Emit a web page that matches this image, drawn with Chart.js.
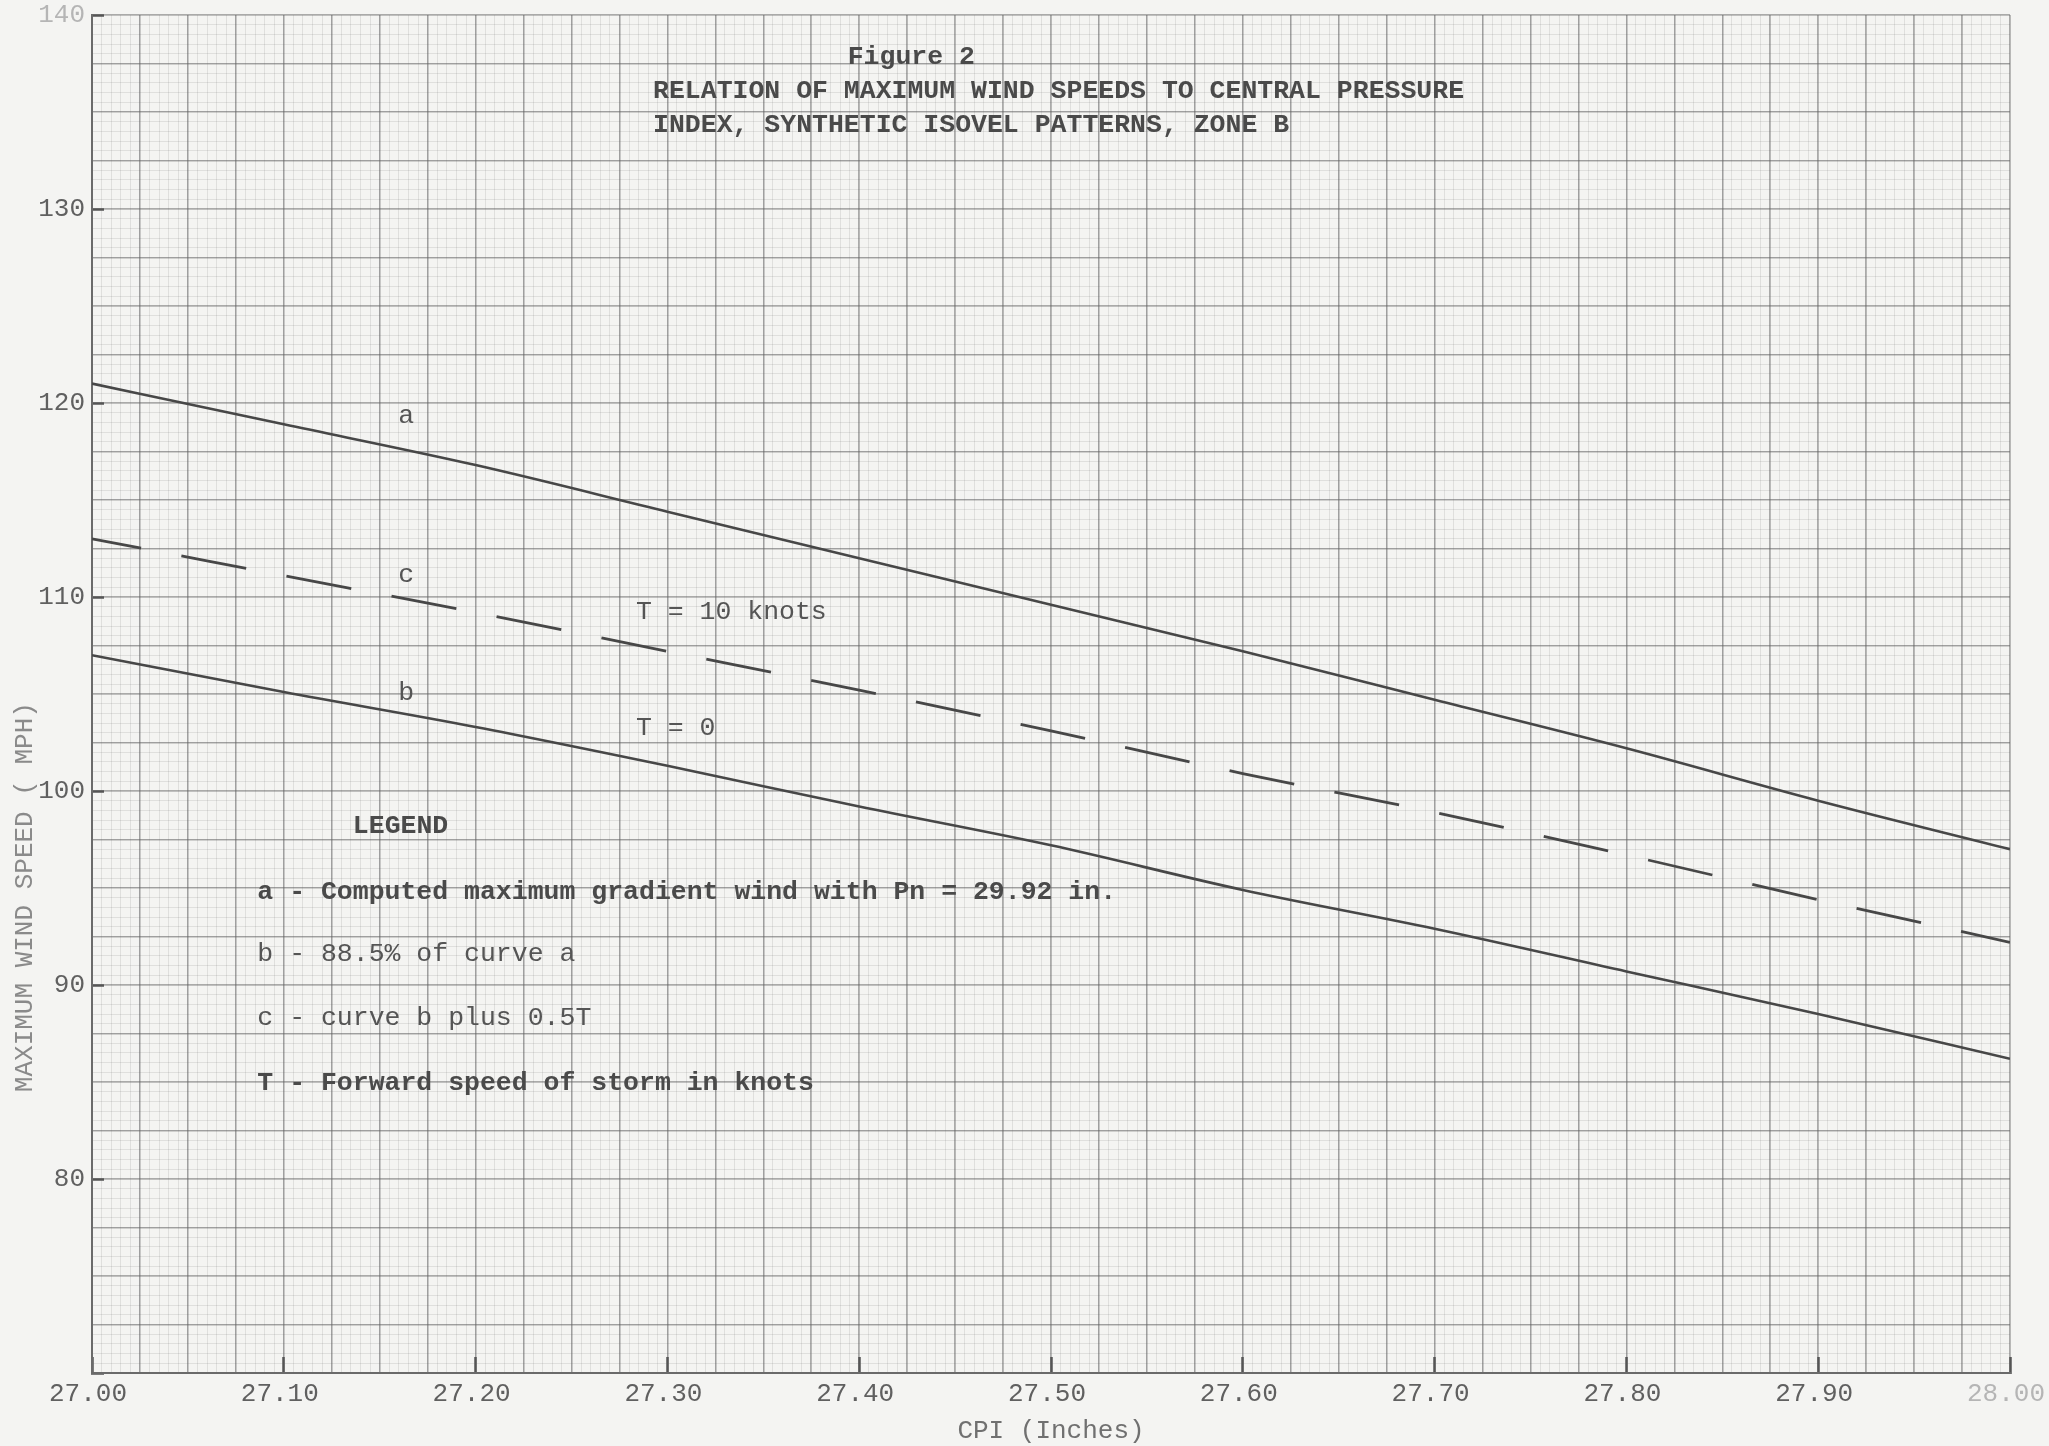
<!DOCTYPE html>
<html>
<head>
<meta charset="utf-8">
<script src="https://cdn.jsdelivr.net/npm/chart.js@4.4.1/dist/chart.umd.min.js"></script>
<style>
  html, body { margin: 0; padding: 0; background: #f4f4f2; overflow: hidden; }
  canvas { display: block; }
</style>
</head>
<body>
<canvas id="c" width="2049" height="1446"></canvas>
<script>
// ---------- data ----------
const cpi    = [27.0, 27.1, 27.2, 27.3, 27.4, 27.5, 27.6, 27.7, 27.8, 27.9, 28.0];
const curveA = [121.0, 118.9, 116.8, 114.4, 112.0, 109.6, 107.2, 104.7, 102.2, 99.5, 97.0];
const curveB = [107.0, 105.1, 103.3, 101.3, 99.2, 97.2, 94.9, 92.9, 90.7, 88.5, 86.2];
const curveC = [113.0, 111.1, 109.2, 107.2, 105.2, 103.1, 100.9, 98.9, 96.7, 94.4, 92.2];

const xTickLabels = ['27.00','27.10','27.20','27.30','27.40','27.50','27.60','27.70','27.80','27.90','28.00'];
const yTickLabels = ['', '80', '90', '100', '110', '120', '130', '140'];

const titleLines = [
  'Figure 2',
  'RELATION OF MAXIMUM WIND SPEEDS TO CENTRAL PRESSURE',
  'INDEX, SYNTHETIC ISOVEL PATTERNS, ZONE B'
];
const curveNames = ['a', 'b', 'c'];
const legendLines = [
  'a - Computed maximum gradient wind with Pn = 29.92 in.',
  'b - 88.5% of curve a',
  'c - curve b plus 0.5T',
  'T - Forward speed of storm in knots'
];
const xAxisTitle = 'CPI (Inches)';
const yAxisTitle = 'MAXIMUM WIND SPEED ( MPH)';

// ---------- presentation ----------
const FONT = "'Liberation Mono', 'Courier New', monospace";
const INK = '#474747';
const TXT = '#555555';

const notes = [
  { text: titleLines[0], x: 27.394,  y: 137.81, bold: true },
  { text: titleLines[1], x: 27.2925, y: 136.06, bold: true },
  { text: titleLines[2], x: 27.2925, y: 134.30, bold: true },
  { text: curveNames[0], x: 27.1638, y: 119.35, align: 'center' },
  { text: curveNames[2], x: 27.1638, y: 111.13, align: 'center' },
  { text: curveNames[1], x: 27.1638, y: 105.07, align: 'center' },
  { text: 'T = 10 knots', x: 27.2836, y: 109.25 },
  { text: 'T = 0',        x: 27.2836, y: 103.25 },
  { text: 'LEGEND',       x: 27.136,  y: 98.2, bold: true },
  { text: legendLines[0], x: 27.0862, y: 94.77, bold: true },
  { text: legendLines[1], x: 27.0862, y: 91.60 },
  { text: legendLines[2], x: 27.0862, y: 88.30 },
  { text: legendLines[3], x: 27.0862, y: 84.93, bold: true }
];

const toXY = arr => cpi.map((v, i) => ({ x: v, y: arr[i] }));

const textPlugin = {
  id: 'paperText',
  afterDraw(chart) {
    const { ctx, scales: { x, y } } = chart;
    ctx.save();
    for (const t of notes) {
      ctx.font = (t.bold ? 'bold ' : '') + '26.5px ' + FONT;
      ctx.fillStyle = t.bold ? '#4a4a4a' : TXT;
      ctx.textAlign = t.align || 'left';
      ctx.textBaseline = 'middle';
      ctx.fillText(t.text, x.getPixelForValue(t.x), y.getPixelForValue(t.y));
    }
    ctx.restore();
  }
};

const zeroH = s => { s.height = 0; s.paddingLeft = 0; s.paddingRight = 0; };
const zeroW = s => { s.width = 0; s.paddingTop = 0; s.paddingBottom = 0; };

new Chart(document.getElementById('c'), {
  type: 'line',
  data: {
    datasets: [
      { label: 'a', data: toXY(curveA), borderColor: INK, borderWidth: 2.6, pointRadius: 0, cubicInterpolationMode: 'monotone', fill: false },
      { label: 'b', data: toXY(curveB), borderColor: INK, borderWidth: 2.6, pointRadius: 0, cubicInterpolationMode: 'monotone', fill: false },
      { label: 'c', data: toXY(curveC), borderColor: INK, borderWidth: 2.8, pointRadius: 0, cubicInterpolationMode: 'monotone', fill: false,
        borderDash: [66, 41], borderDashOffset: 16 }
    ]
  },
  options: {
    responsive: false,
    devicePixelRatio: 1,
    animation: false,
    layout: { padding: { left: 0, right: 39, top: 15, bottom: 0 } },
    plugins: { legend: { display: false }, tooltip: { enabled: false }, title: { display: false } },
    scales: {
      x: {
        type: 'linear', position: 'bottom', min: 27, max: 28,
        ticks: {
          stepSize: 0.1, autoSkip: false, maxRotation: 0, padding: 22, labelOffset: -4,
          font: { family: FONT, size: 26 },
          color: ctx => (ctx.index === xTickLabels.length - 1 ? '#b5b5b5' : '#606060'),
          callback: (v, i) => xTickLabels[i]
        },
        grid: { drawOnChartArea: false, drawTicks: true, tickLength: -16, tickColor: '#555', tickWidth: 2.5 },
        border: { display: true, color: '#6a6a6a', width: 2 },
        title: { display: true, text: xAxisTitle, color: '#707070',
                 font: { family: FONT, size: 26, lineHeight: 1 }, padding: { top: 0, bottom: 2 } },
        afterFit: s => { s.height = 73; s.paddingLeft = 0; s.paddingRight = 0; }
      },
      xMajor: {
        type: 'linear', position: 'bottom', min: 27, max: 28,
        ticks: { display: false, stepSize: 0.025 },
        grid: { color: 'rgba(95,95,95,0.5)', lineWidth: 1.6, drawTicks: false, z: -2 },
        border: { display: false },
        afterFit: zeroH
      },
      xMinor: {
        type: 'linear', position: 'bottom', min: 27, max: 28,
        ticks: { display: false, stepSize: 0.005 },
        grid: { color: 'rgba(120,120,120,0.17)', lineWidth: 1, drawTicks: false, z: -3 },
        border: { display: false },
        afterFit: zeroH
      },
      y: {
        type: 'linear', position: 'left', min: 70, max: 140,
        ticks: {
          stepSize: 10, padding: 19,
          font: { family: FONT, size: 26 },
          color: ctx => (ctx.tick && ctx.tick.value === 140 ? '#b5b5b5' : '#606060'),
          callback: (v, i) => yTickLabels[i]
        },
        grid: { drawOnChartArea: false, drawTicks: true, tickLength: -12, tickColor: '#555', tickWidth: 2.5 },
        border: { display: true, color: '#6a6a6a', width: 2 },
        title: { display: true, align: 'start', text: ' '.repeat(18) + yAxisTitle, color: '#8a8a8a',
                 font: { family: FONT, size: 26, lineHeight: 1 }, padding: { top: 12, bottom: 0 } },
        afterFit: s => { s.width = 92; s.paddingTop = 0; s.paddingBottom = 0; }
      },
      yMajor: {
        type: 'linear', position: 'left', min: 70, max: 140,
        ticks: { display: false, stepSize: 2.5 },
        grid: { color: 'rgba(95,95,95,0.5)', lineWidth: 1.6, drawTicks: false, z: -2 },
        border: { display: false },
        afterFit: zeroW
      },
      yMinor: {
        type: 'linear', position: 'left', min: 70, max: 140,
        ticks: { display: false, stepSize: 0.5 },
        grid: { color: 'rgba(120,120,120,0.17)', lineWidth: 1, drawTicks: false, z: -3 },
        border: { display: false },
        afterFit: zeroW
      }
    }
  },
  plugins: [textPlugin]
});
</script>
</body>
</html>
